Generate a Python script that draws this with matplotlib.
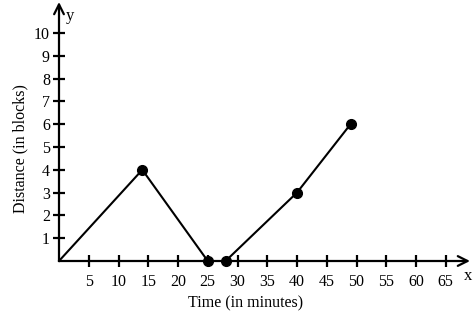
import matplotlib.pyplot as plt

# trip data: minutes vs. blocks from home
leg1_t = [0, 14, 25]
leg1_d = [0, 4, 0]
leg2_t = [28, 40, 49]
leg2_d = [0, 3, 6]
dot_t = [14, 25, 28, 40, 49]
dot_d = [4, 0, 0, 3, 6]

x_ticks = list(range(5, 70, 5))
y_ticks = list(range(1, 11))

plt.rcParams['font.family'] = ['Liberation Serif', 'DejaVu Serif']

fig = plt.figure(figsize=(4.75, 3.25), dpi=100)
W, H = 475, 325
x0, y0, x1, y1 = 59, 261, 470, 2
ax = fig.add_axes([x0 / W, 1 - y0 / H, (x1 - x0) / W, (y0 - y1) / H])
ax.set_xlim(0, (x1 - x0) / 5.95)
ax.set_ylim(0, (y0 - y1) / 22.8)

for s in ['top', 'right', 'left', 'bottom']:
    ax.spines[s].set_visible(False)

# axes drawn as arrows
arrow = dict(arrowstyle='->, head_length=0.7, head_width=0.35', lw=1.6, color='black',
             shrinkA=0, shrinkB=0)
ax.annotate('', xy=(ax.get_xlim()[1], 0), xytext=(0, 0), arrowprops=arrow,
            annotation_clip=False)
ax.annotate('', xy=(0, ax.get_ylim()[1]), xytext=(0, 0), arrowprops=arrow,
            annotation_clip=False)

ax.plot(leg1_t, leg1_d, color='black', lw=1.5, clip_on=False)
ax.plot(leg2_t, leg2_d, color='black', lw=1.5, clip_on=False)
ax.plot(dot_t, dot_d, 'o', color='black', ms=7, clip_on=False, zorder=5)

ax.set_xticks(x_ticks)
ax.set_yticks(y_ticks)
ax.tick_params(direction='inout', length=9, width=1.6, labelsize=11.5, colors='black')
ax.tick_params(axis='x', pad=5)
ax.tick_params(axis='y', pad=2)

ax.text(68.8, -0.65, 'x', fontsize=12, ha='center', va='center')
ax.text(1.8, 10.75, 'y', fontsize=12, ha='center', va='center')

ax.set_xlabel('Time (in minutes)', fontsize=11.5, va='center')
ax.set_ylabel('Distance (in blocks)', fontsize=11.5, va='center')
ax.xaxis.set_label_coords(0.455, -0.162)
ax.yaxis.set_label_coords(-0.095, 0.436)

fig.savefig('out.png', dpi=100)
